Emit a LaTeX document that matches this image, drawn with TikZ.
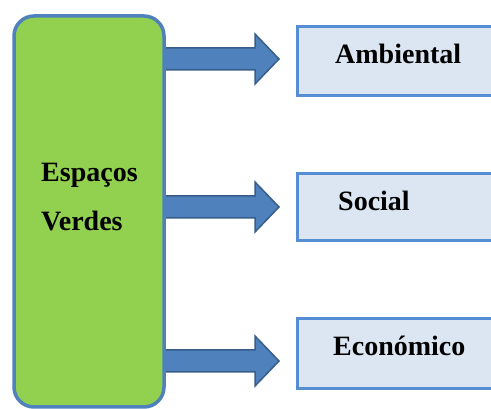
\documentclass[tikz,border=0pt]{standalone}
\usepackage{fontspec}
\setmainfont{Liberation Serif}
\definecolor{greenfill}{HTML}{92D050}
\definecolor{mainedge}{HTML}{4F81BD}
\definecolor{boxedge}{HTML}{558ED5}
\definecolor{boxfill}{HTML}{DCE6F2}
\definecolor{arrfill}{HTML}{4F81BD}
\definecolor{arredge}{HTML}{385D8A}
\tikzset{
  mainbox/.style={draw=mainedge, fill=greenfill, line width=3.5pt, rounded corners=20pt},
  catbox/.style={draw=boxedge, fill=boxfill, line width=3pt},
  arr/.style={draw=arredge, fill=arrfill, line width=1.5pt, line join=miter},
  lbl/.style={font=\fontsize{28}{32}\selectfont\bfseries, text=black, inner sep=0pt},
}
\begin{document}
\begin{tikzpicture}[x=1pt,y=-1pt]
\useasboundingbox (0,0) rectangle (491,409);
% category boxes
\draw[catbox] (297.5,26.5) rectangle (510,96);
\node[lbl, anchor=base west] (a) at (335,64) {Ambiental};
\draw[catbox] (297.5,173.5) rectangle (510,241);
\node[lbl, anchor=base west] (s) at (338,211) {Social};
\draw[catbox] (297.5,318.5) rectangle (510,389);
\node[lbl, anchor=base west] (e) at (333,356) {Económico};
% arrows
\foreach \yc in {59,207,361}{
  \draw[arr] (160,{\yc-11}) -- (255,{\yc-11}) -- (255,{\yc-25}) -- (279,\yc)
     -- (255,{\yc+25}) -- (255,{\yc+11}) -- (160,{\yc+11}) -- cycle;
}
% main box
\draw[mainbox] (14,16) rectangle (164,407);
\node[lbl, anchor=base west] (g1) at (41,182) {Espaços};
\node[lbl, anchor=base west] (g2) at (41,231) {Verdes};
\end{tikzpicture}
\end{document}
